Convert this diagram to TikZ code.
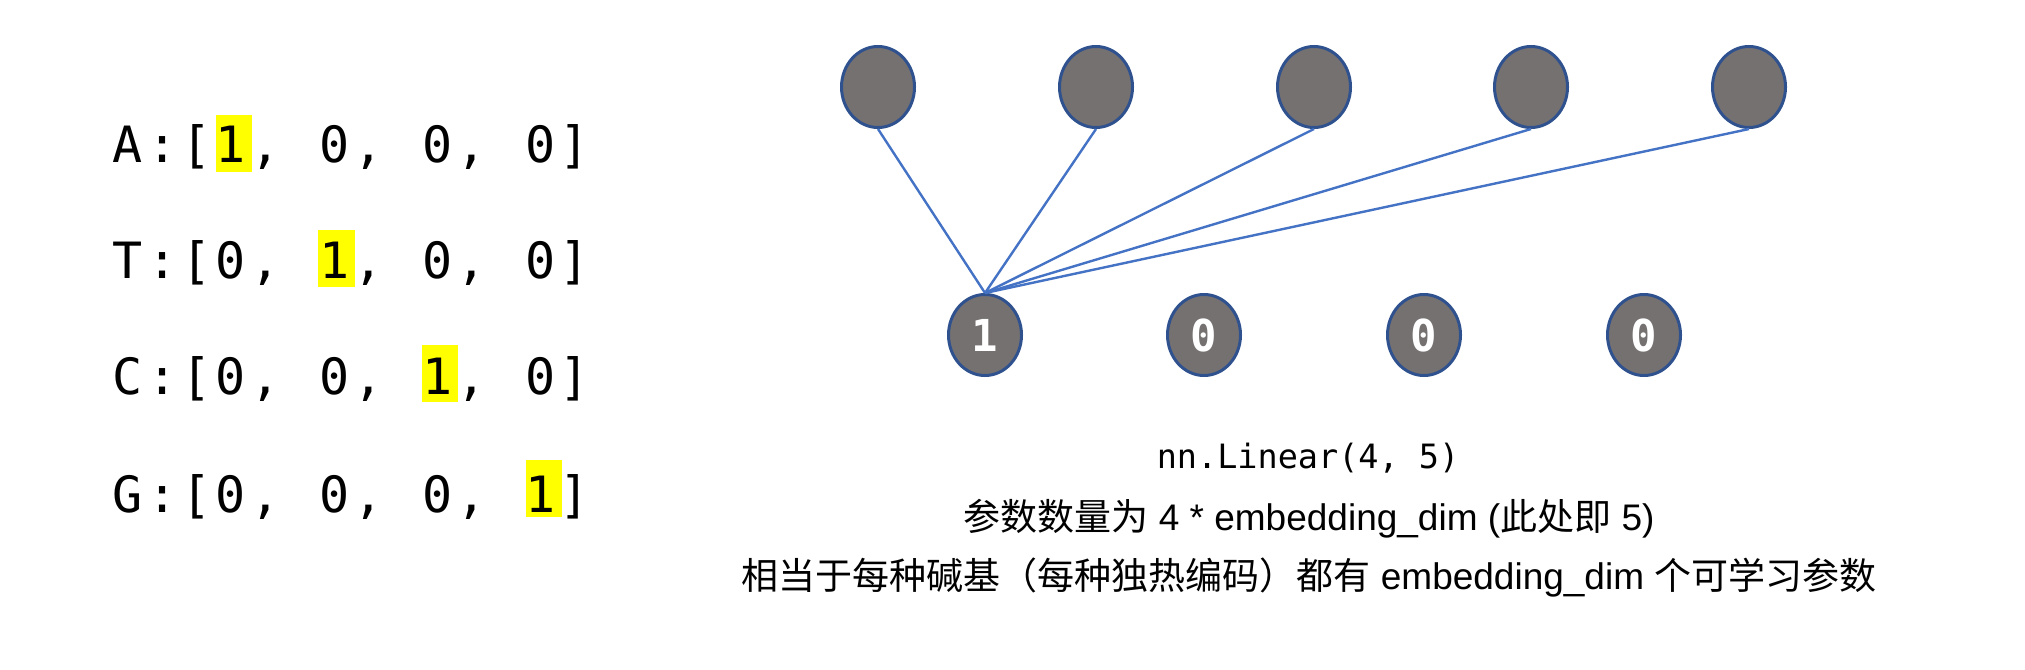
\documentclass[tikz,border=0pt]{standalone}
\usepackage{fontspec}
\setmainfont{Liberation Sans}
\newfontfamily\monof{DejaVu Sans Mono}
\newfontfamily\cjk{Noto Sans CJK SC}
\usetikzlibrary{shapes.geometric}
\definecolor{nodegray}{HTML}{767171}
\definecolor{nodeborder}{HTML}{2F528F}
\definecolor{linkblue}{HTML}{4472C4}
\definecolor{hlyellow}{HTML}{FFFF00}
\newlength\pitch
\setlength\pitch{34.4pt}
\newcommand\pc[1]{\makebox[\pitch][c]{#1}}
\begin{document}
\begin{tikzpicture}[x=1pt,y=-1pt,
  neuron/.style={ellipse, draw=nodeborder, line width=3pt, fill=nodegray,
    minimum width=73pt, minimum height=81pt, inner sep=0pt, text=white,
    font=\monof\bfseries\fontsize{44}{44}\selectfont},
  link/.style={draw=linkblue, line width=2.4pt},
  rowtext/.style={anchor=base west, inner sep=0pt, font=\monof\fontsize{50}{60}\selectfont},
  caption/.style={anchor=base, inner sep=0pt}]
\path[use as bounding box, fill=white] (0,0) rectangle (2025,669);
% highlights
\fill[hlyellow] (216,115) rectangle (252,172);
\fill[hlyellow] (318,230) rectangle (355,287);
\fill[hlyellow] (422,345) rectangle (458,402);
\fill[hlyellow] (526,460) rectangle (562,517);
% one-hot rows
\node[rowtext] (rowA) at (110.3,162) {\pc{A}\pc{:}\pc{[}\pc{1}\pc{,}\pc{}\pc{0}\pc{,}\pc{}\pc{0}\pc{,}\pc{}\pc{0}\pc{]}};
\node[rowtext] (rowT) at (110.3,278) {\pc{T}\pc{:}\pc{[}\pc{0}\pc{,}\pc{}\pc{1}\pc{,}\pc{}\pc{0}\pc{,}\pc{}\pc{0}\pc{]}};
\node[rowtext] (rowC) at (110.3,394) {\pc{C}\pc{:}\pc{[}\pc{0}\pc{,}\pc{}\pc{0}\pc{,}\pc{}\pc{1}\pc{,}\pc{}\pc{0}\pc{]}};
\node[rowtext] (rowG) at (110.3,512) {\pc{G}\pc{:}\pc{[}\pc{0}\pc{,}\pc{}\pc{0}\pc{,}\pc{}\pc{0}\pc{,}\pc{}\pc{1}\pc{]}};
% neurons
\foreach \i/\x in {1/878,2/1096,3/1314,4/1531,5/1749}
  \node[neuron] (t\i) at (\x,87) {};
\node[neuron] (b1) at (985,335) {1};
\node[neuron] (b2) at (1204,335) {0};
\node[neuron] (b3) at (1424,335) {0};
\node[neuron] (b4) at (1644,335) {0};
\foreach \i in {1,...,5}
  \draw[link] (t\i.south) -- (b1.north);
% captions
\node[caption, font=\monof\fontsize{33.5}{40}\selectfont] (cap1) at (1308,468.5) {nn.Linear(4, 5)};
\node[caption, font=\fontsize{37}{44}\selectfont] (cap2) at (1309,530) {{\cjk 参数数量为} 4 * embedding\_dim ({\cjk 此处即} 5)};
\node[caption, font=\fontsize{37}{44}\selectfont] (cap3) at (1309,589) {{\cjk 相当于每种碱基（每种独热编码）都有} embedding\_dim {\cjk 个可学习参数}};
\end{tikzpicture}
\end{document}
